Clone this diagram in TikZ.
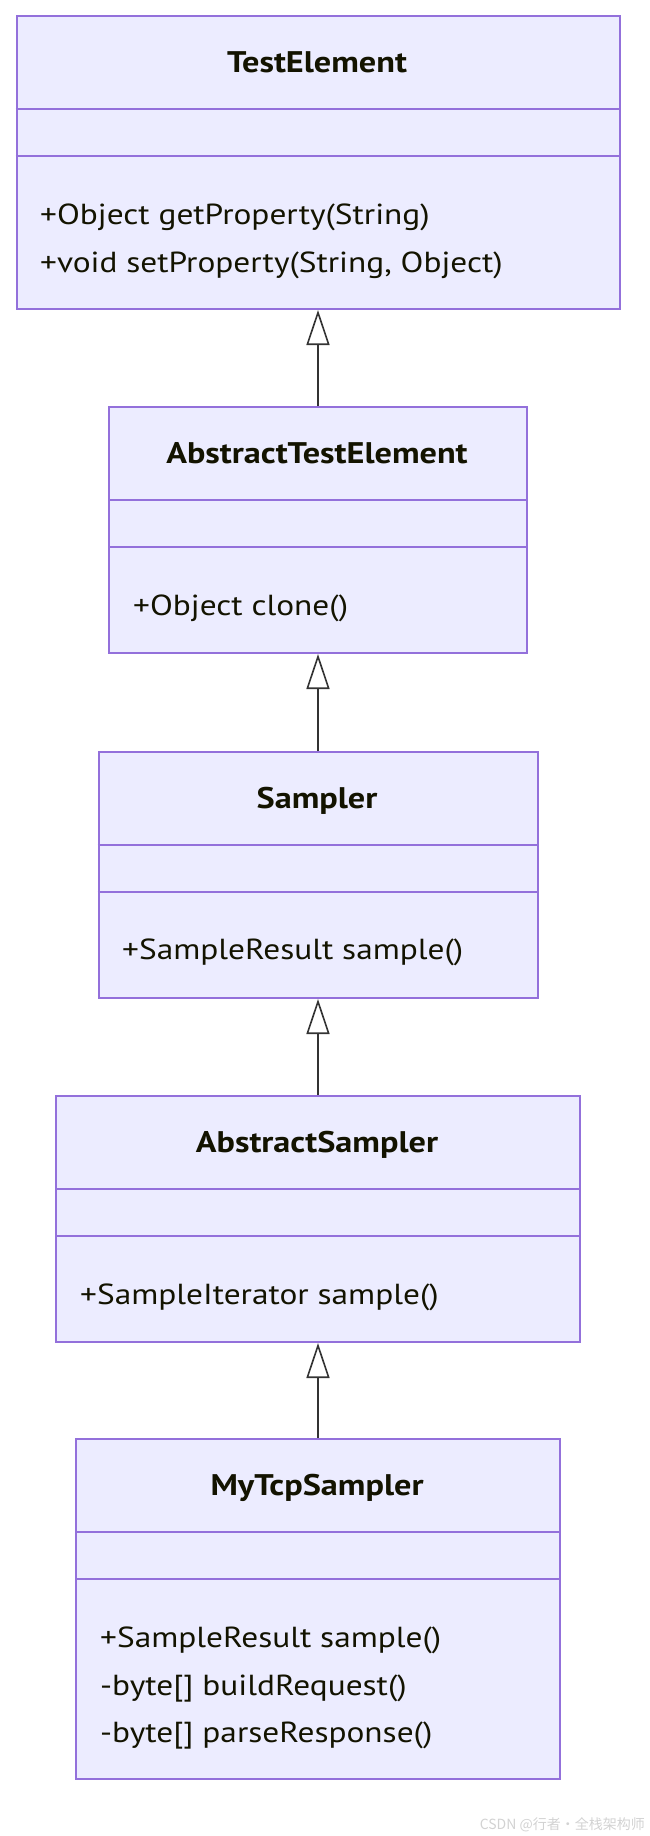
\documentclass[tikz,border=0pt]{standalone}
\usepackage{fontspec}
\setmainfont{PT Sans}[FakeStretch=1.15]
\newfontfamily\cjkfont{Noto Sans CJK SC}
\usetikzlibrary{arrows.meta, positioning}
\definecolor{classfill}{HTML}{ECECFF}
\definecolor{classedge}{HTML}{9370DB}
\definecolor{classtext}{HTML}{131300}
\definecolor{linkline}{HTML}{333333}

\tikzset{
  classbox/.style={draw=classedge, fill=classfill, line width=2pt, anchor=north west, inner sep=0pt},
  classrule/.style={draw=classedge, line width=2pt},
  classname/.style={anchor=base, inner sep=0pt, text=classtext, font=\fontsize{29.8}{34}\selectfont\bfseries},
  member/.style={anchor=base west, inner sep=0pt, text=classtext, font=\fontsize{29}{34}\selectfont},
  inherits/.style={draw=linkline, line width=1.6pt, -{Triangle[open, length=35pt, width=23pt, line width=1.6pt]}}
}

\begin{document}
\begin{tikzpicture}[x=1pt, y=-1pt]
            \useasboundingbox (0,0) rectangle (650,1836);
            % TestElement
            \node[classbox, minimum width=603pt, minimum height=293pt] (testelement) at (15.5,15) {};
            \draw[classrule] (15.5,109) -- (618.5,109) (15.5,156) -- (618.5,156);
            \node[classname] (testelement-name) at (317,72) {TestElement};
            \node[member] (testelement-get) at (40,224) {+Object getProperty(String)};
            \node[member] (testelement-set) at (40,272) {+void setProperty(String, Object)};
            % AbstractTestElement
            \node[classbox, minimum width=418pt, minimum height=246pt] (abstracttestelement) at (108,406) {};
            \draw[classrule] (108,500) -- (526,500) (108,547) -- (526,547);
            \node[classname] (abstracttestelement-name) at (317,463) {AbstractTestElement};
            \node[member] (abstracttestelement-clone) at (133,615) {+Object clone()};
            % Sampler
            \node[classbox, minimum width=439pt, minimum height=246pt] (sampler) at (97.5,751) {};
            \draw[classrule] (97.5,845) -- (536.5,845) (97.5,892) -- (536.5,892);
            \node[classname] (sampler-name) at (317,808) {Sampler};
            \node[member] (sampler-sample) at (122,959) {+SampleResult sample()};
            % AbstractSampler
            \node[classbox, minimum width=524pt, minimum height=246pt] (abstractsampler) at (55,1095) {};
            \draw[classrule] (55,1189) -- (579,1189) (55,1236) -- (579,1236);
            \node[classname] (abstractsampler-name) at (317,1152) {AbstractSampler};
            \node[member] (abstractsampler-sample) at (80,1304) {+SampleIterator sample()};
            % MyTcpSampler
            \node[classbox, minimum width=484pt, minimum height=340pt] (mytcpsampler) at (75,1438) {};
            \draw[classrule] (75,1532) -- (559,1532) (75,1579) -- (559,1579);
            \node[classname] (mytcpsampler-name) at (317,1495) {MyTcpSampler};
            \node[member] (mytcpsampler-sample) at (100,1647) {+SampleResult sample()};
            \node[member] (mytcpsampler-build) at (100,1695) {-byte[] buildRequest()};
            \node[member] (mytcpsampler-parse) at (100,1742) {-byte[] parseResponse()};
            % inheritance
            \draw[inherits] (abstracttestelement.north) -- (testelement.south);
            \draw[inherits] (sampler.north) -- (abstracttestelement.south);
            \draw[inherits] (abstractsampler.north) -- (sampler.south);
            \draw[inherits] (mytcpsampler.north) -- (abstractsampler.south);
            \node[anchor=base east, inner sep=0pt, text=gray!35, font=\cjkfont\fontsize{14}{16}\selectfont] (watermark) at (645,1829) {CSDN @行者·全栈架构师};
        \end{tikzpicture}
\end{document}
